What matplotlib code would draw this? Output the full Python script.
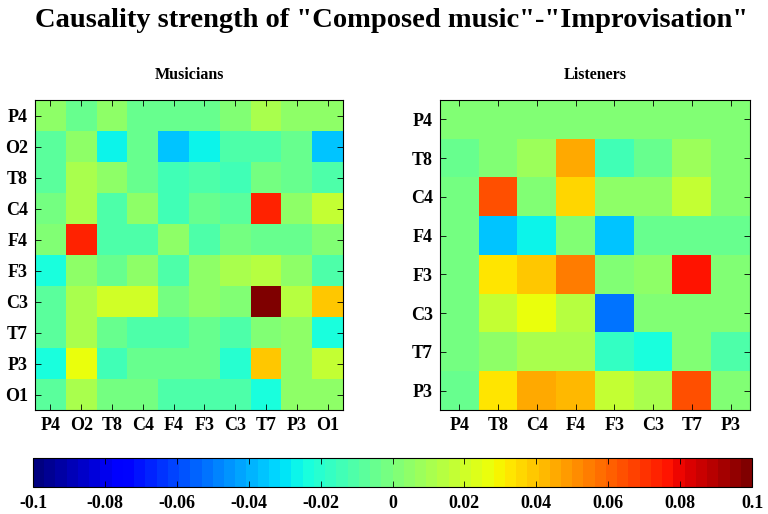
import numpy as np
import matplotlib
matplotlib.use("Agg")
import matplotlib.pyplot as plt

# electrode labels
mus_labels = ["P4", "O2", "T8", "C4", "F4", "F3", "C3", "T7", "P3", "O1"]
lis_labels = ["P4", "T8", "C4", "F4", "F3", "C3", "T7", "P3"]

# causality strength, rows top->bottom, cols left->right
musicians = [
    [0.006, -0.004, 0.004, -0.005, -0.006, -0.005, 0.000, 0.011, 0.005, 0.005],
    [-0.008, 0.004, -0.028, -0.006, -0.035, -0.027, -0.010, -0.012, -0.004, -0.035],
    [-0.008, 0.010, 0.004, -0.006, -0.015, -0.010, -0.013, -0.003, -0.005, -0.012],
    [-0.003, 0.010, -0.010, 0.005, -0.015, -0.005, -0.008, 0.075, 0.004, 0.017],
    [0.002, 0.075, -0.010, -0.010, 0.005, -0.010, -0.002, -0.005, -0.006, 0.000],
    [-0.022, 0.005, -0.005, 0.006, -0.010, 0.004, 0.012, 0.013, 0.004, -0.012],
    [-0.008, 0.010, 0.021, 0.021, -0.002, 0.006, 0.002, 0.097, 0.014, 0.038],
    [-0.008, 0.010, -0.006, -0.010, -0.012, -0.004, -0.010, 0.002, 0.004, -0.022],
    [-0.022, 0.026, -0.015, -0.005, -0.004, -0.005, -0.020, 0.038, 0.004, 0.016],
    [-0.008, 0.010, -0.002, -0.003, -0.010, -0.012, -0.010, -0.022, 0.004, 0.005],
]
listeners = [
    [0.003, 0.000, 0.000, 0.000, 0.001, 0.000, 0.000, 0.000],
    [-0.005, 0.003, 0.008, 0.045, -0.013, -0.004, 0.008, 0.000],
    [-0.003, 0.064, 0.003, 0.035, 0.006, 0.005, 0.016, 0.000],
    [-0.003, -0.035, -0.027, 0.003, -0.035, -0.004, -0.004, -0.004],
    [-0.003, 0.032, 0.040, 0.055, 0.002, 0.004, 0.078, 0.003],
    [-0.003, 0.016, 0.026, 0.014, -0.053, 0.002, 0.002, 0.002],
    [-0.003, 0.004, 0.010, 0.010, -0.018, -0.025, 0.003, -0.010],
    [-0.005, 0.034, 0.046, 0.041, 0.016, 0.010, 0.065, 0.003],
]
cbar_ticks = [-0.1, -0.08, -0.06, -0.04, -0.02, 0, 0.02, 0.04, 0.06, 0.08, 0.1]
cbar_ticklabels = ["-0.1", "-0.08", "-0.06", "-0.04", "-0.02", "0",
                   "0.02", "0.04", "0.06", "0.08", "0.1"]

plt.rcParams["font.family"] = ["Liberation Serif", "DejaVu Serif"]
plt.rcParams["font.weight"] = "bold"

cmap = plt.get_cmap("jet", 64)
W, H = 768, 514
fig = plt.figure(figsize=(W / 100, H / 100), dpi=100)

def px_axes(x0, y0, x1, y1):
    return fig.add_axes([x0 / W, 1 - y1 / H, (x1 - x0) / W, (y1 - y0) / H])

def heat(ax, data, labels, title):
    im = ax.imshow(np.array(data), cmap=cmap, vmin=-0.1, vmax=0.1,
                   aspect="auto", interpolation="nearest")
    n = len(labels)
    ax.set_xticks(range(n))
    ax.set_yticks(range(n))
    ax.set_xticklabels(labels, fontsize=13, fontweight="bold")
    ax.set_yticklabels(labels, fontsize=13, fontweight="bold")
    ax.tick_params(direction="in", top=True, right=True, length=4, width=0.6, pad=5)
    for s in ax.spines.values():
        s.set_linewidth(0.8)
    ax.set_title(title, fontsize=11.5, fontweight="bold", pad=15)
    return im

ax1 = px_axes(35, 100, 343, 410)
im = heat(ax1, musicians, mus_labels, "Musicians")
ax2 = px_axes(440, 100, 750, 410)
heat(ax2, listeners, lis_labels, "Listeners")

cax = px_axes(33, 458, 752, 487)
cb = fig.colorbar(im, cax=cax, orientation="horizontal", ticks=cbar_ticks)
cb.ax.set_xticklabels(cbar_ticklabels, fontsize=13, fontweight="bold")
cb.ax.tick_params(direction="in", top=True, length=4, width=0.6, pad=6)
cb.outline.set_linewidth(0.8)

fig.suptitle('Causality strength of "Composed music"-"Improvisation"',
             fontsize=20.5, fontweight="bold", x=0.51, y=0.985)

fig.savefig("out.png", dpi=100)
